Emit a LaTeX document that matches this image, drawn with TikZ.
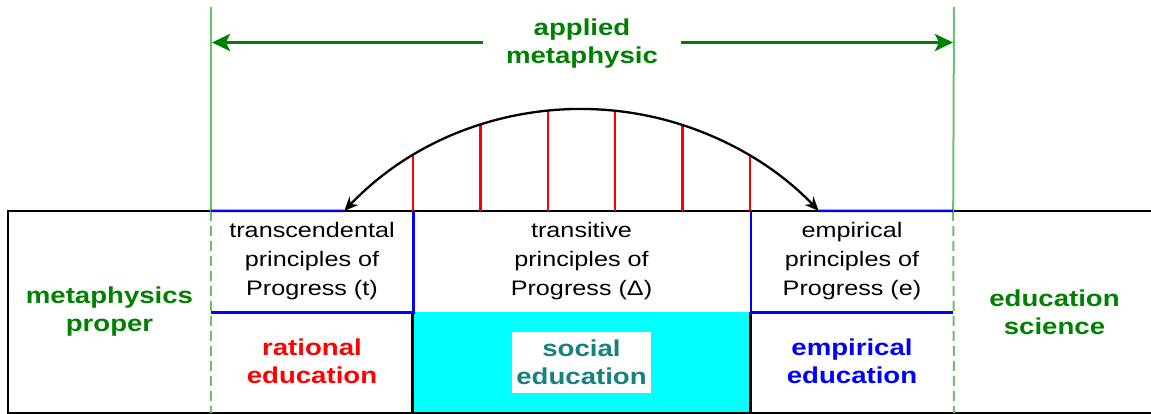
\documentclass[tikz,border=0pt]{standalone}
\usepackage{fontspec}
\setmainfont{Liberation Sans}[FakeStretch=1.2]
\usetikzlibrary{arrows.meta,positioning,calc}
\definecolor{labelgreen}{HTML}{008000}
\definecolor{guidegreen}{HTML}{6DBE6D}
\definecolor{socialteal}{HTML}{178080}
\definecolor{socialcyan}{HTML}{00FFFF}
\tikzset{
  principle/.style={
    minimum width=202pt,
    minimum height=101pt,
    inner sep=0pt,
    align=center,
    font=\fontsize{21}{29}\selectfont
  },
  edulabel/.style={
    align=center,
    inner sep=0pt,
    font=\fontsize{23}{28}\selectfont\bfseries
  },
  frameline/.style={line width=2.8pt,draw=black},
  blueline/.style={line width=2.6pt,draw=blue},
  guideline/.style={line width=2pt,draw=guidegreen},
  rungline/.style={line width=2.3pt,draw=red},
  spanarrow/.style={-{Stealth[length=18pt,width=17pt,inset=4pt]},line width=3pt,draw=labelgreen},
  swingarrow/.style={{Stealth[length=14pt,width=12pt]}-{Stealth[length=14pt,width=12pt]},line width=2.3pt,draw=black}
}

\begin{document}
\begin{tikzpicture}[x=1pt,y=1pt]
\clip (0,0) rectangle (1151,413);
% social band
\node[principle,minimum width=337pt,fill=socialcyan] (band) at (581.5,50.5) {};
\draw[frameline] (band.north west) -- (band.south west);
\draw[frameline] (band.north east) -- (band.south east);
% outer frame
\draw[frameline] (8,-0.8) rectangle (1170,202);
% principle cells
\node[principle] (trans) at (312,151.5) {transcendental\\principles of\\Progress (t)};
\node[principle,minimum width=337pt] (transit) at (581.5,151.5) {transitive\\principles of\\Progress (Δ)};
\node[principle] (empir) at (852,151.5) {empirical\\principles of\\Progress (e)};
% guide lines
\coordinate (leftguide) at (212,370.5);
\coordinate (rightguide) at (953,370.5);
\draw[guideline] (211,406) -- (trans.north west);
\draw[guideline,dash pattern=on 10pt off 5pt] (trans.north west) -- (211,0);
\draw[guideline] (954,406) -- (empir.north east);
\draw[guideline,dash pattern=on 10pt off 5pt] (empir.north east) -- (954,0);
% swing between the two outer cells
\coordinate (swingL) at ({581.5+327*cos(136.5)},{-23+327*sin(136.5)});
\coordinate (swingR) at ({581.5+327*cos(43.5)},{-23+327*sin(43.5)});
\foreach \i in {0,...,5}
  \draw[rungline] ({413+67.4*\i},202) -- ({413+67.4*\i},{-23+327*sin(acos((413+67.4*\i-581.5)/327))});
\draw[swingarrow] (swingL) arc[start angle=136.5,end angle=43.5,radius=327];
% blue borders
\draw[blueline] (trans.north west) -- (swingL);
\draw[blueline] (swingR) -- (empir.north east);
\draw[blueline] (trans.south west) -- (trans.south east) -- (trans.north east);
\draw[blueline] (empir.north west) -- (empir.south west) -- (empir.south east);
% labels
\node[edulabel,text=labelgreen] (proper) at (109.5,101) {metaphysics\\proper};
\node[edulabel,text=labelgreen] (science) at (1054.5,101) {education\\science};
\node[edulabel,text=red] (rational) at (312,52) {rational\\education};
\node[edulabel,text=blue] (empiredu) at (852,52) {empirical\\education};
\node[edulabel,text=socialteal,fill=white,inner xsep=4pt,inner ysep=8pt] (social) at (band) {social\\education};
\node[edulabel,text=labelgreen,inner xsep=23pt] (applied) at (582,369) {applied\\metaphysic};
\draw[spanarrow] (applied.west |- leftguide) -- (leftguide);
\draw[spanarrow] (applied.east |- rightguide) -- (rightguide);
\end{tikzpicture}
\end{document}
